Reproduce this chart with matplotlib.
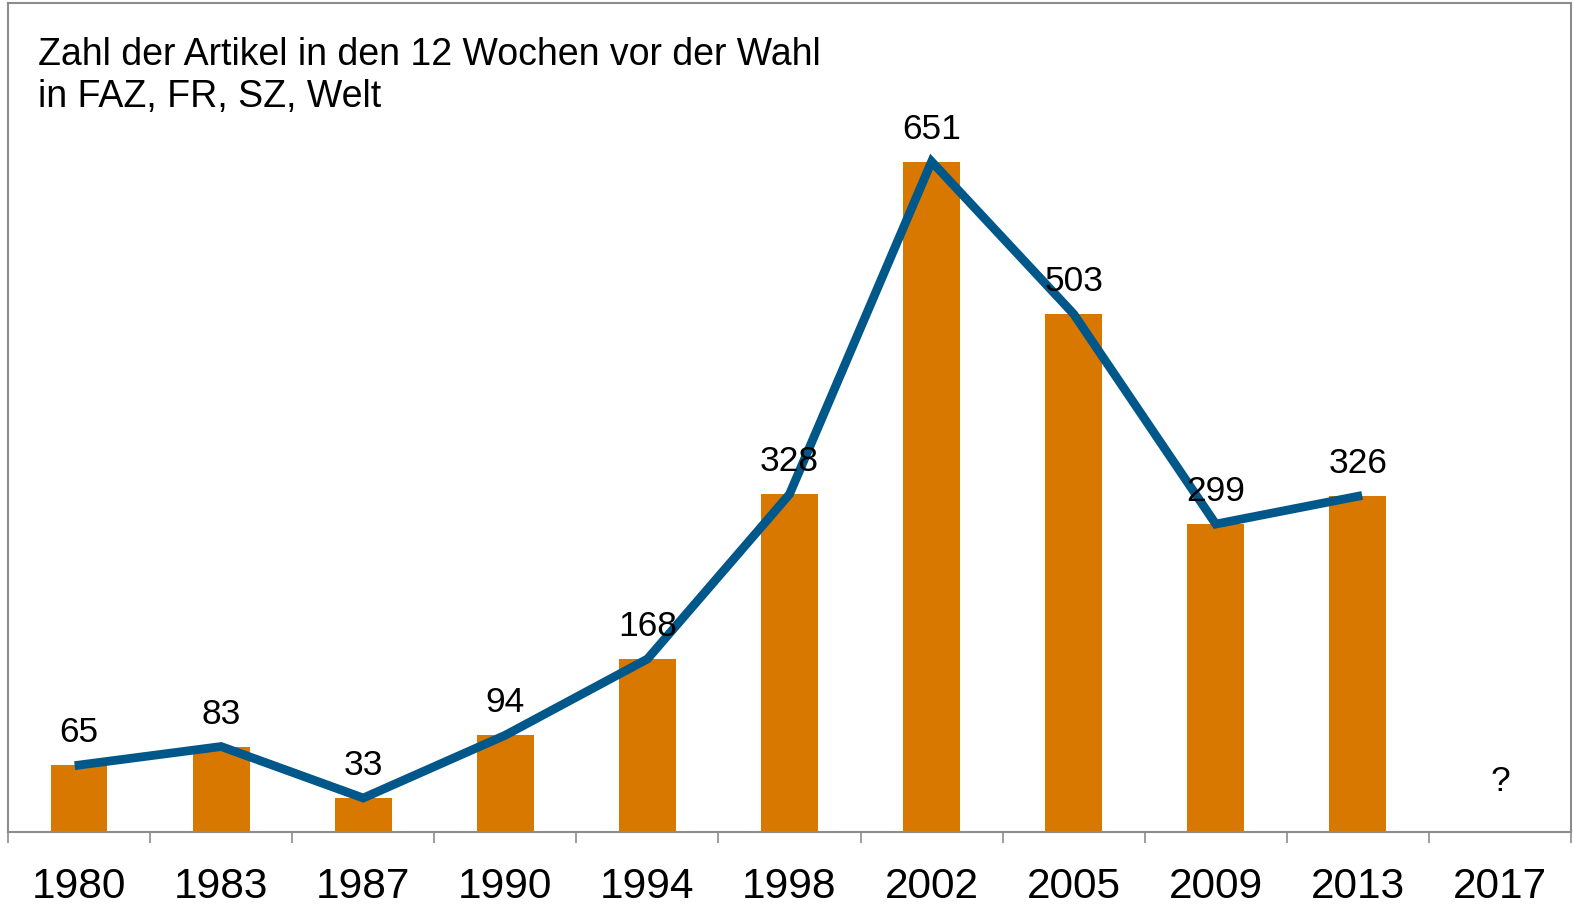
import matplotlib
matplotlib.use('Agg')
import matplotlib.pyplot as plt
import numpy as np

plt.rcParams['font.family'] = ['Liberation Sans', 'DejaVu Sans']

# data
years = ['1980', '1983', '1987', '1990', '1994', '1998', '2002', '2005', '2009', '2013', '2017']
articles = [65, 83, 33, 94, 168, 328, 651, 503, 299, 326]
title_lines = ['Zahl der Artikel in den 12 Wochen vor der Wahl', 'in FAZ, FR, SZ, Welt']

bar_color = '#D97800'
line_color = '#00578A'
frame_color = '#8C8C8C'

W, H = 1573, 906
fig = plt.figure(figsize=(W / 100, H / 100), dpi=100)
ax = fig.add_axes([8 / W, (H - 832) / H, 1563 / W, 829 / H])

x = np.arange(len(articles))
ax.bar(x, articles, width=0.4, color=bar_color, zorder=2)
ax.plot(x, articles, color=line_color, linewidth=6.3, solid_joinstyle='miter', zorder=3)

for xi, v in zip(x, articles):
    ax.annotate(str(v), (xi, v), xytext=(0, 16.5), textcoords='offset points',
                ha='center', va='baseline', fontsize=25.5, zorder=4)

# 2017 has no value yet
ax.text(len(years) - 1, 40, '?', ha='center', va='baseline', fontsize=25.5)

ax.set_xlim(-0.5, len(years) - 0.5)
ax.set_ylim(0, 805)
ax.set_yticks([])

# tick marks on category boundaries, labels on centers
ax.set_xticks(np.arange(-0.5, len(years), 1.0))
ax.set_xticklabels([])
ax.tick_params(axis='x', which='major', length=8.2, width=1.2, color=frame_color, direction='out')
ax.set_xticks(np.arange(len(years)), minor=True)
ax.set_xticklabels(years, minor=True, fontsize=30.5)
ax.tick_params(axis='x', which='minor', length=0, pad=25)

for s in ax.spines.values():
    s.set_color(frame_color)
    s.set_linewidth(1.5)

fig.text(38 / W, 1 - 65 / H, title_lines[0], fontsize=27, va='baseline', ha='left')
fig.text(38 / W, 1 - 107 / H, title_lines[1], fontsize=27, va='baseline', ha='left')

fig.savefig('out.png', dpi=100)
plt.close(fig)
